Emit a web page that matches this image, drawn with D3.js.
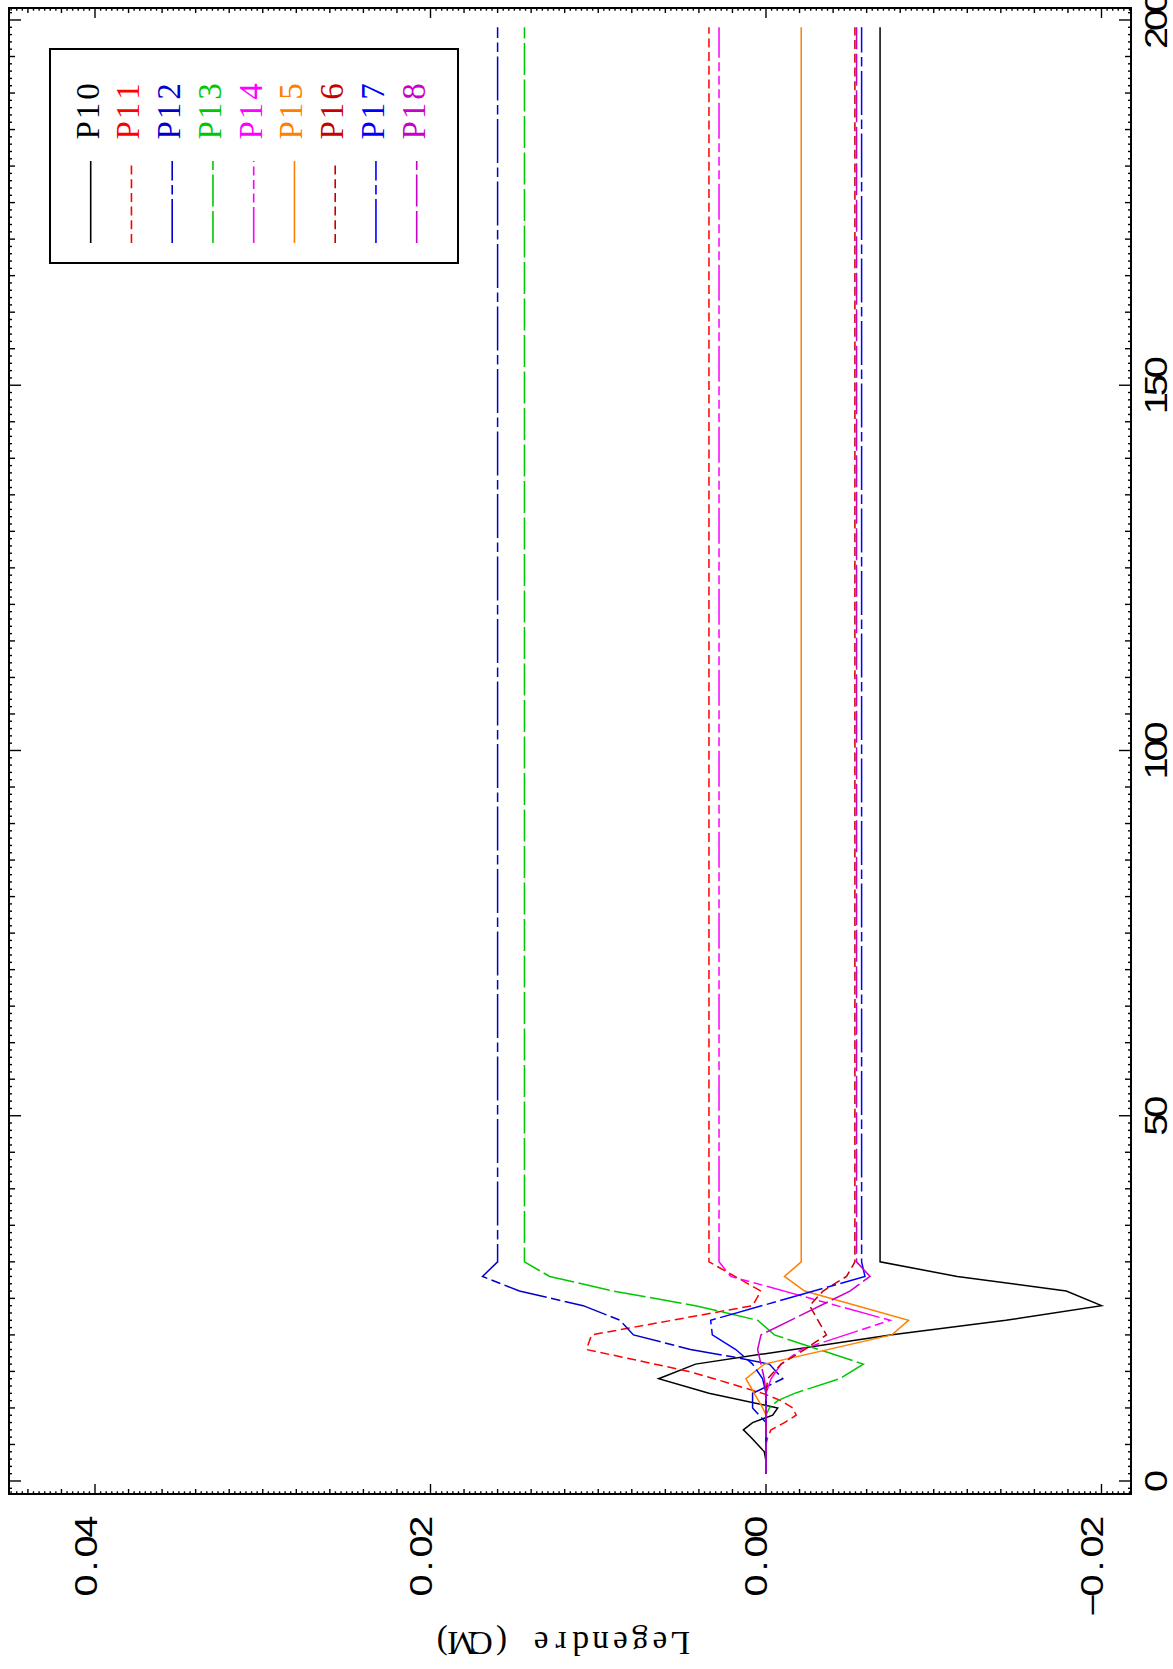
<!DOCTYPE html>
<html><head><meta charset="utf-8">
<script src="https://cdn.jsdelivr.net/npm/d3@7"></script>
<style>html,body{margin:0;padding:0;background:#fff;}</style>
</head><body>
<svg id="c" width="1173" height="1669" xmlns="http://www.w3.org/2000/svg"></svg>
<script>
// ---- data (depth along the rotated axis, Legendre value across) ----
const seriesNames = ["P10","P11","P12","P13","P14","P15","P16","P17","P18"];

const x_P10 = [1,2,3,4,5,6,7,8,9,10,12,14,16,20,22,24,26,28,30,199];
const v_P10 = [0,0,0.00002,0.0001,0.0005,0.0009,0.00135,0.0008,-0.0004,-0.0007,0.0034,0.0064,0.0042,-0.0074,-0.0143,-0.0200,-0.0179,-0.0114,-0.0068,-0.0068];

const x_P11 = [1,5,6,7,8,9,10,11,12,14,15,18,20,24,26,30,199];
const v_P11 = [0,0,-0.0001,-0.0003,-0.0011,-0.0018,-0.0016,-0.0009,0.0002,0.0031,0.0046,0.0107,0.0104,0.0008,0.0003,0.0034,0.0034];

const x_P12 = [1,8,9,10,12,14,16,17,18,20,22,24,26,28,30,199];
const v_P12 = [0,0,0.0004,0.0008,0.0008,-0.0010,-0.0002,0.0020,0.0045,0.0079,0.0087,0.0109,0.0147,0.0169,0.0160,0.0160];

const x_P13 = [1,9,10,11,12,14,16,20,22,24,26,28,30,199];
const v_P13 = [0,0,-0.0002,-0.0007,-0.0017,-0.0044,-0.0058,-0.0005,0.0005,0.0042,0.0091,0.0129,0.0144,0.0144];

const x_P14 = [1,12,14,16,18,22,28,30,199];
const v_P14 = [0,0,-0.0003,-0.0009,-0.0021,-0.0074,0.0021,0.0028,0.0028];

const x_P15 = [1,9,10,14,16,20,22,26,28,30,199];
const v_P15 = [0,0,0.0002,0.0012,0.0001,-0.0075,-0.0085,-0.0023,-0.0011,-0.0021,-0.0021];

const x_P16 = [1,12,14,16,18,20,22,24,26,28,30,199];
const v_P16 = [0,0,-0.0001,-0.0009,-0.0023,-0.0036,-0.0031,-0.0026,-0.0034,-0.0048,-0.0053,-0.0053];

const x_P17 = [1,12,14,16,18,20,22,28,30,199];
const v_P17 = [0,0,0.0002,0.0008,0.0018,0.0032,0.0033,-0.0059,-0.0057,-0.0057];

const x_P18 = [1,12,14,16,18,20,26,28,30,199];
const v_P18 = [0,0,0.0001,0.0003,0.0005,0.0003,-0.0050,-0.0062,-0.0054,-0.0054];

const seriesX = [x_P10,x_P11,x_P12,x_P13,x_P14,x_P15,x_P16,x_P17,x_P18];
const seriesV = [v_P10,v_P11,v_P12,v_P13,v_P14,v_P15,v_P16,v_P17,v_P18];

const valueTicks = [-0.02, 0, 0.02, 0.04];
const valueTickLabels = ["\u22120.02","0.00","0.02","0.04"];
const depthTicks = [0, 50, 100, 150, 200];
const depthTickLabels = ["0","50","100","150","200"];
const axisTitle = "Legendre (CM)";

// ---- styles ----
const colors = ["#000000","#ff0000","#0000cc","#00c800","#ff00ff","#ff8000","#c80000","#0000ff","#c800c8"];
const dashes = ["none","9,4.7","44,4.5,9.5,4.5","32,4.5","36,4.5,9,4.5,9,4.5,9,4.5","none","9,4.7","44,4.5,9.5,4.5","32,4.5"];

const svg = d3.select("#c");
const F = {l:9, r:1131, t:8, b:1494};

// value -> horizontal (reversed), depth -> vertical (bottom = 0)
const vScale = d3.scaleLinear().domain([0.045127, -0.021759]).range([F.l, F.r]);
const xScale = d3.scaleLinear().domain([-1.78, 201.64]).range([F.b, F.t]);

// monospaced-cell text helper: each char centred in its own cell
function cellText(sel, str, cell, anchor, sx) {
  const n = str.length;
  const xs = [];
  for (let i = 0; i < n; i++) {
    let c;
    if (anchor === "end") c = -(n - i - 0.5) * cell;
    else if (anchor === "middle") c = (i - (n - 1) / 2) * cell;
    else c = (i + 0.5) * cell;
    xs.push((c / sx).toFixed(2));
  }
  sel.attr("x", xs.join(" ")).attr("text-anchor", "middle").text(str);
  return sel;
}

// ---- data lines ----
const line = d3.line().x(d => vScale(d.v)).y(d => xScale(d.x));
seriesNames.forEach((n, i) => {
  const pts = seriesX[i].map((x, j) => ({x: x, v: seriesV[i][j]}));
  svg.append("path").datum(pts)
    .attr("d", line)
    .attr("fill", "none")
    .attr("stroke", colors[i])
    .attr("stroke-width", 1.5)
    .attr("stroke-linejoin", "miter")
    .attr("stroke-dasharray", dashes[i]);
});

// ---- frame ----
svg.append("rect").attr("x", F.l).attr("y", F.t).attr("width", F.r - F.l).attr("height", F.b - F.t)
  .attr("fill", "none").attr("stroke", "#000").attr("stroke-width", 2);

// ---- ticks ----
const tg = svg.append("g").attr("stroke", "#000").attr("stroke-width", 1.4);
const kMin = Math.ceil(vScale.domain()[1] * 3000), kMax = Math.floor(vScale.domain()[0] * 3000);
for (let k = kMin; k <= kMax; k++) {
  const px = vScale(k / 3000);
  const len = (k % 60 === 0) ? 10 : (k % 6 === 0) ? 5 : 2.7;
  tg.append("line").attr("x1", px).attr("x2", px).attr("y1", F.b).attr("y2", F.b - len);
  tg.append("line").attr("x1", px).attr("x2", px).attr("y1", F.t).attr("y2", F.t + len);
}
for (let k = -1; k <= 201; k++) {
  const py = xScale(k);
  const len = (k % 50 === 0) ? 12 : (k % 5 === 0) ? 6 : 3;
  tg.append("line").attr("y1", py).attr("y2", py).attr("x1", F.r).attr("x2", F.r - len);
  tg.append("line").attr("y1", py).attr("y2", py).attr("x1", F.l).attr("x2", F.l + len);
}

// ---- tick labels ----
const tickFont = "Liberation Sans";
const SX = 1.28;
valueTicks.forEach((v, i) => {
  const t = svg.append("text")
    .attr("transform", `translate(${vScale(v) + 1.5},1517) rotate(-90) scale(${SX},1)`)
    .attr("font-family", tickFont).attr("font-size", 31).attr("fill", "#000");
  cellText(t, valueTickLabels[i], 19.6, "end", SX);
});
depthTicks.forEach((x, i) => {
  const t = svg.append("text")
    .attr("transform", `translate(1167,${xScale(x)}) rotate(-90) scale(${SX},1)`)
    .attr("font-family", tickFont).attr("font-size", 31).attr("fill", "#000");
  cellText(t, depthTickLabels[i], 18, "middle", SX);
});

// ---- axis title (upside down) ----
const tt = svg.append("text")
  .attr("transform", "translate(561,1632) rotate(180)")
  .attr("font-family", "Liberation Serif").attr("font-size", 33).attr("fill", "#000");
cellText(tt, axisTitle, 19.8, "middle", 1);

// ---- legend ----
svg.append("rect").attr("x", 50).attr("y", 49).attr("width", 408).attr("height", 214)
  .attr("fill", "#fff").attr("stroke", "#000").attr("stroke-width", 2);
seriesNames.forEach((n, i) => {
  const lx = 90.7 + i * 40.75;
  svg.append("line").attr("x1", lx).attr("x2", lx).attr("y1", 243).attr("y2", 161)
    .attr("stroke", colors[i]).attr("stroke-width", 1.6).attr("stroke-dasharray", dashes[i]);
  const t = svg.append("text")
    .attr("transform", `translate(${lx + 7.8},140) rotate(-90)`)
    .attr("font-family", "Liberation Serif").attr("font-size", 33).attr("fill", colors[i]);
  cellText(t, n, 19.4, "start", 1);
});
</script>
</body></html>
